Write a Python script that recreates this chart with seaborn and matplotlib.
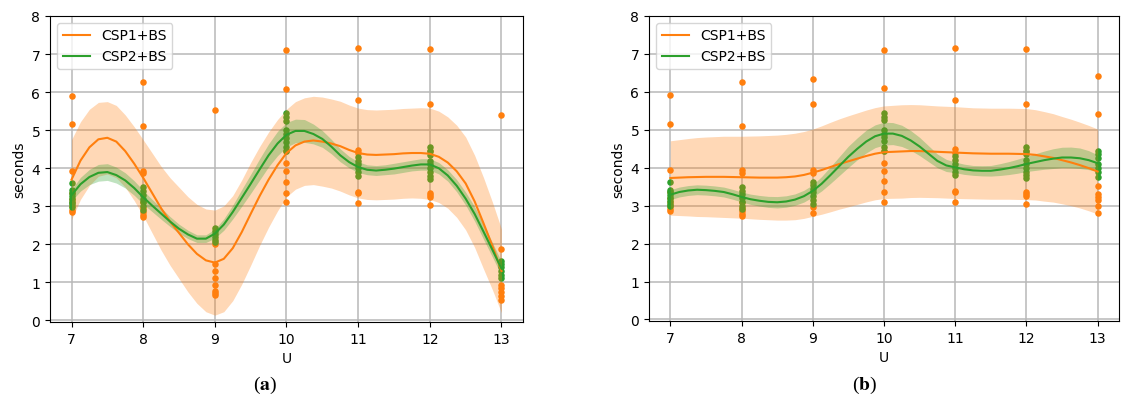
import numpy as np
import pandas as pd
import matplotlib
matplotlib.use("Agg")
import matplotlib.pyplot as plt
import seaborn as sns

ORANGE = "#ff7f0e"
GREEN = "#2ca02c"

U = [7, 8, 9, 10, 11, 12, 13]

# measured times per U, panel (a)
csp1_a = [
    [5.91, 5.16, 3.93, 3.35, 3.2, 3.1, 3.0, 2.9, 2.85],
    [6.26, 5.11, 3.93, 3.87, 3.1, 2.95, 2.85, 2.78, 2.73],
    [5.53, 2.0, 1.48, 1.3, 1.12, 0.93, 0.77, 0.72, 0.67],
    [7.1, 6.09, 4.45, 4.13, 3.92, 3.65, 3.36, 3.11],
    [7.15, 5.78, 4.49, 4.4, 3.38, 3.35, 3.09],
    [7.13, 5.68, 4.45, 3.35, 3.3, 3.25, 3.04],
    [5.41, 1.87, 0.93, 0.85, 0.75, 0.65, 0.55],
]
csp2_a = [
    [3.62, 3.42, 3.35, 3.28, 3.2, 3.12, 3.05, 2.98],
    [3.5, 3.4, 3.3, 3.2, 3.1, 3.0, 2.9],
    [2.42, 2.35, 2.28, 2.2, 2.12, 2.05],
    [5.45, 5.35, 5.25, 5.0, 4.9, 4.8, 4.7, 4.55, 4.45],
    [4.3, 4.2, 4.1, 4.0, 3.9, 3.8],
    [4.55, 4.45, 4.35, 4.2, 4.1, 4.0, 3.9, 3.8, 3.72],
    [1.55, 1.48, 1.4, 1.3, 1.2, 1.12],
]

# panel (b)
csp1_b = [
    [5.91, 5.16, 3.93, 3.35, 3.2, 3.1, 3.0, 2.9, 2.85],
    [6.26, 5.11, 3.93, 3.87, 3.1, 2.95, 2.85, 2.78, 2.73],
    [6.33, 5.69, 3.95, 3.87, 2.96, 2.81],
    [7.1, 6.09, 4.45, 4.13, 3.92, 3.65, 3.36, 3.11],
    [7.15, 5.78, 4.49, 4.4, 3.38, 3.35, 3.09],
    [7.13, 5.68, 4.45, 3.35, 3.3, 3.25, 3.04],
    [6.42, 5.41, 3.52, 3.3, 3.22, 3.15, 3.0, 2.8],
]
csp2_b = [
    [3.62, 3.42, 3.35, 3.28, 3.2, 3.12, 3.05, 2.98],
    [3.5, 3.4, 3.3, 3.2, 3.1, 3.0, 2.9],
    [3.62, 3.55, 3.45, 3.35, 3.25, 3.15, 3.05],
    [5.45, 5.35, 5.25, 5.0, 4.9, 4.8, 4.7, 4.55, 4.45],
    [4.3, 4.2, 4.1, 4.0, 3.9, 3.8],
    [4.55, 4.45, 4.35, 4.2, 4.1, 4.0, 3.9, 3.8, 3.72],
    [4.45, 4.35, 4.25, 4.1, 4.0, 3.9, 3.75],
]

# fitted curves (mean and half band width)
grid = [7.0, 7.125, 7.25, 7.375, 7.5, 7.625, 7.75, 7.875,
        8.0, 8.125, 8.25, 8.375, 8.5, 8.625, 8.75, 8.875,
        9.0, 9.125, 9.25, 9.375, 9.5, 9.625, 9.75, 9.875,
        10.0, 10.125, 10.25, 10.375, 10.5, 10.625, 10.75, 10.875,
        11.0, 11.125, 11.25, 11.375, 11.5, 11.625, 11.75, 11.875,
        12.0, 12.125, 12.25, 12.375, 12.5, 12.625, 12.75, 12.875, 13.0]

mean1_a = [3.7, 4.2, 4.55, 4.76, 4.8, 4.7, 4.45, 4.12,
           3.75, 3.35, 2.95, 2.6, 2.3, 2.0, 1.75, 1.58,
           1.52, 1.62, 1.9, 2.32, 2.8, 3.27, 3.7, 4.08,
           4.4, 4.6, 4.7, 4.73, 4.7, 4.65, 4.58, 4.48,
           4.4, 4.36, 4.35, 4.36, 4.37, 4.39, 4.4, 4.4,
           4.38, 4.3, 4.15, 3.92, 3.6, 3.13, 2.55, 1.95, 1.3]
half1_a = [1.05, 1.02, 1.0, 0.97, 0.95, 0.95, 0.95, 0.97,
           1.0, 1.05, 1.1, 1.15, 1.2, 1.25, 1.3, 1.35,
           1.38, 1.39, 1.38, 1.37, 1.35, 1.3, 1.25, 1.2,
           1.15, 1.15, 1.15, 1.16, 1.17, 1.17, 1.18, 1.18,
           1.18, 1.18, 1.18, 1.18, 1.18, 1.18, 1.18, 1.19,
           1.2, 1.2, 1.2, 1.21, 1.22, 1.21, 1.2, 1.15, 1.1]
mean2_a = [3.29, 3.58, 3.77, 3.88, 3.9, 3.82, 3.68, 3.48,
           3.24, 3.02, 2.81, 2.6, 2.41, 2.26, 2.15, 2.15,
           2.28, 2.52, 2.85, 3.22, 3.59, 3.97, 4.34, 4.65,
           4.88, 4.98, 4.98, 4.9, 4.77, 4.57, 4.34, 4.16,
           4.03, 3.96, 3.94, 3.96, 3.99, 4.03, 4.07, 4.1,
           4.1, 4.0, 3.81, 3.54, 3.2, 2.8, 2.33, 1.85, 1.36]
half2_a = [0.15, 0.18, 0.2, 0.22, 0.22, 0.21, 0.2, 0.19,
           0.18, 0.16, 0.15, 0.13, 0.12, 0.11, 0.1, 0.1,
           0.12, 0.15, 0.18, 0.22, 0.25, 0.28, 0.3, 0.32,
           0.32, 0.31, 0.3, 0.26, 0.22, 0.19, 0.17, 0.15,
           0.14, 0.13, 0.13, 0.13, 0.14, 0.14, 0.14, 0.15,
           0.15, 0.15, 0.15, 0.16, 0.17, 0.19, 0.2, 0.19, 0.18]

mean1_b = [3.73, 3.74, 3.75, 3.755, 3.76, 3.76, 3.76, 3.755,
           3.75, 3.745, 3.74, 3.74, 3.74, 3.75, 3.77, 3.81,
           3.87, 3.94, 4.02, 4.1, 4.17, 4.24, 4.31, 4.37,
           4.41, 4.42, 4.43, 4.44, 4.44, 4.43, 4.42, 4.41,
           4.4, 4.39, 4.38, 4.375, 4.37, 4.37, 4.37, 4.365,
           4.36, 4.34, 4.3, 4.26, 4.2, 4.14, 4.07, 3.99, 3.9]
half1_b = [0.98, 1.0, 1.02, 1.04, 1.05, 1.06, 1.07, 1.075,
           1.08, 1.09, 1.1, 1.11, 1.12, 1.13, 1.14, 1.145,
           1.15, 1.165, 1.18, 1.19, 1.2, 1.205, 1.21, 1.215,
           1.22, 1.225, 1.23, 1.225, 1.22, 1.215, 1.21, 1.21,
           1.21, 1.205, 1.2, 1.2, 1.2, 1.2, 1.2, 1.2,
           1.2, 1.19, 1.18, 1.165, 1.15, 1.14, 1.13, 1.125, 1.12]
mean2_b = [3.29, 3.36, 3.4, 3.42, 3.41, 3.39, 3.36, 3.3,
           3.23, 3.17, 3.13, 3.1, 3.09, 3.11, 3.16, 3.25,
           3.39, 3.58, 3.81, 4.05, 4.29, 4.5, 4.69, 4.83,
           4.9, 4.9, 4.84, 4.72, 4.56, 4.37, 4.18, 4.06,
           4.01, 3.96, 3.93, 3.92, 3.92, 3.95, 3.99, 4.04,
           4.1, 4.15, 4.2, 4.24, 4.27, 4.27, 4.25, 4.2, 4.12]
half2_b = [0.13, 0.13, 0.13, 0.13, 0.13, 0.13, 0.13, 0.13,
           0.13, 0.135, 0.14, 0.145, 0.15, 0.15, 0.15, 0.155,
           0.16, 0.19, 0.22, 0.25, 0.28, 0.29, 0.3, 0.3,
           0.3, 0.29, 0.28, 0.26, 0.24, 0.21, 0.18, 0.16,
           0.14, 0.135, 0.13, 0.135, 0.14, 0.155, 0.17, 0.185,
           0.2, 0.22, 0.24, 0.26, 0.27, 0.275, 0.27, 0.25, 0.22]


def points_frame(samples):
    rows = []
    for u, vals in zip(U, samples):
        for v in vals:
            rows.append({"U": u, "seconds": v})
    return pd.DataFrame(rows)


def draw_panel(ax, p1, p2, m1, h1, m2, h2):
    g = np.array(grid)
    sns.scatterplot(data=points_frame(p1), x="U", y="seconds", ax=ax,
                    color=ORANGE, s=22, linewidth=0, zorder=2)
    sns.scatterplot(data=points_frame(p2), x="U", y="seconds", ax=ax,
                    color=GREEN, s=22, linewidth=0, zorder=2)
    m1, h1, m2, h2 = map(np.array, (m1, h1, m2, h2))
    ax.fill_between(g, m1 - h1, m1 + h1, color=ORANGE, alpha=0.3, linewidth=0, zorder=3)
    ax.fill_between(g, m2 - h2, m2 + h2, color=GREEN, alpha=0.3, linewidth=0, zorder=3)
    sns.lineplot(x=g, y=m1, ax=ax, color=ORANGE, lw=1.5, label="CSP1+BS", zorder=4)
    sns.lineplot(x=g, y=m2, ax=ax, color=GREEN, lw=1.5, label="CSP2+BS", zorder=4)
    ax.set_ylim(-0.04, 8)
    ax.set_yticks(range(0, 9))
    ax.set_xticks(U)
    ax.set_xlabel("U", fontsize=10)
    ax.set_ylabel("seconds", fontsize=10)
    ax.tick_params(labelsize=10)
    ax.grid(True, color="#b8b8b8", lw=1.1)
    ax.set_axisbelow(True)
    ax.legend(loc="upper left", fontsize=10)


plt.rcParams["mathtext.fontset"] = "stix"
fig = plt.figure(figsize=(11.26, 4.14), dpi=100)
ax1 = fig.add_axes([50 / 1126, 91 / 414, 473 / 1126, 306 / 414])
ax2 = fig.add_axes([649 / 1126, 92 / 414, 470 / 1126, 305 / 414])

draw_panel(ax1, csp1_a, csp2_a, mean1_a, half1_a, mean2_a, half2_a)
draw_panel(ax2, csp1_b, csp2_b, mean1_b, half1_b, mean2_b, half2_b)

fig.text(265 / 1126, 1 - 385 / 414, r"($\mathbf{a}$)", ha="center", va="center",
         fontsize=14, family="Liberation Serif")
fig.text(865 / 1126, 1 - 385 / 414, r"($\mathbf{b}$)", ha="center", va="center",
         fontsize=14, family="Liberation Serif")

fig.savefig("out.png", dpi=100)
